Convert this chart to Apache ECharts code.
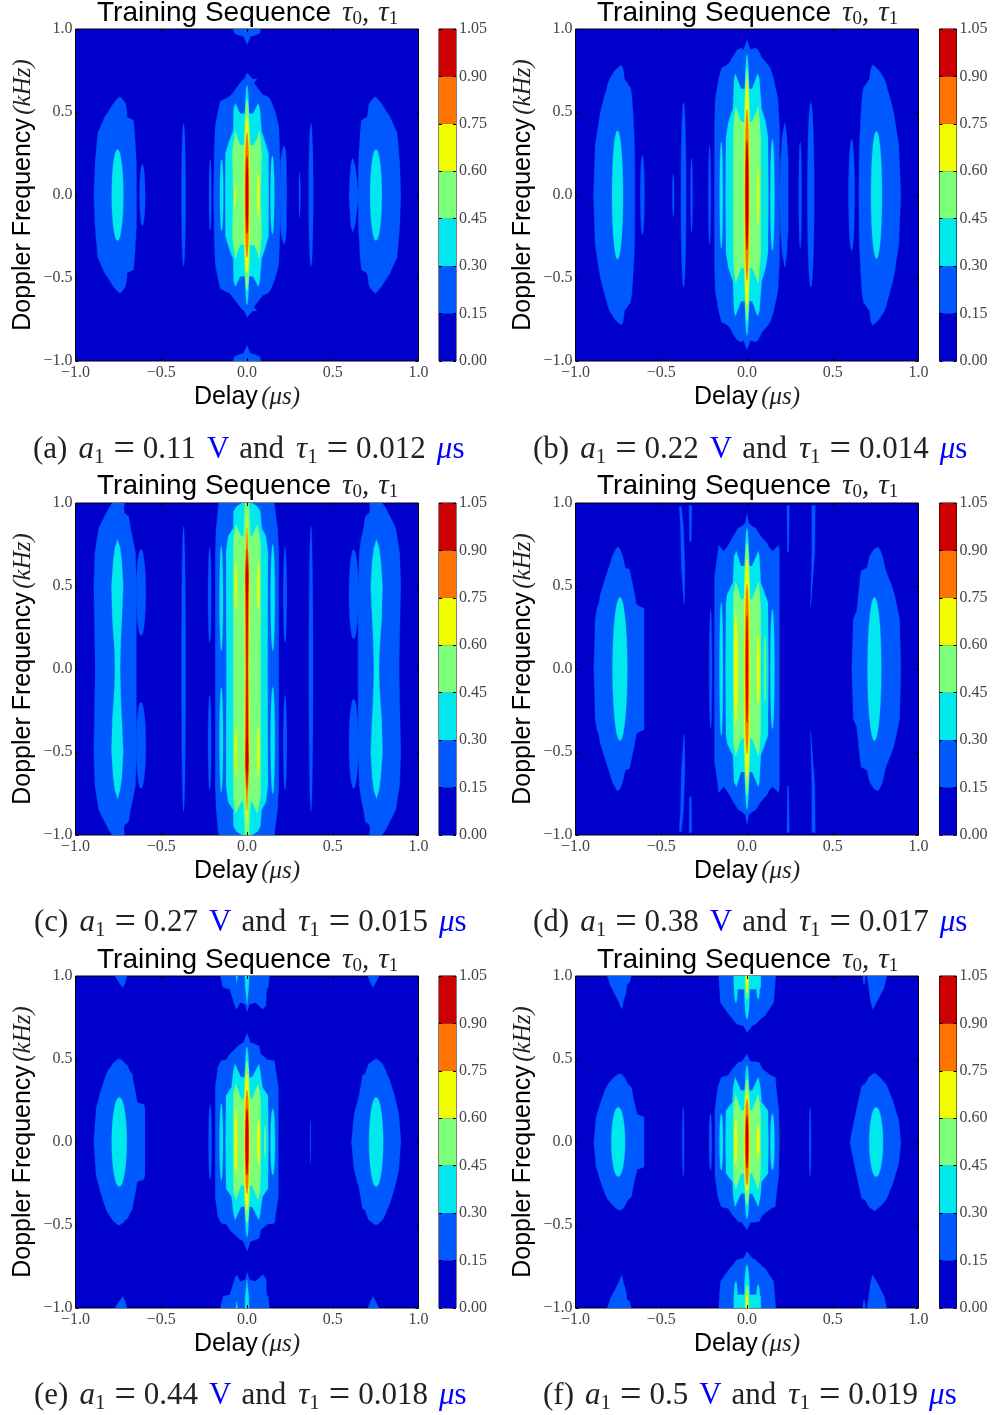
<!DOCTYPE html>
<html><head><meta charset="utf-8">
<script src="https://cdn.jsdelivr.net/npm/echarts@6/dist/echarts.min.js"></script>
<style>html,body{margin:0;padding:0;background:#fff}#c{width:993px;height:1415px}</style></head>
<body><div id="c"></div>
<script>
// Contour band colours (jet, 7 bands) and the colour-bar steps
const bandColors = ['#0000cc','#0058ff','#00e8ee','#7cff79','#f1fc00','#ff7300','#cc0000'];
const bandWidths = [0.15,0.15,0.15,0.15,0.15,0.15,0.15];
const captionParts = [['a','0.11','0.012'],['b','0.22','0.014'],['c','0.27','0.015'],['d','0.38','0.017'],['e','0.44','0.018'],['f','0.5','0.019']];

// Filled regions: [band, rows of [doppler, delayLeft, delayRight]]
// Rows starting at doppler 0 are mirrored into one shape; others are drawn at +/- doppler.
const lobesA = [
 [1,[[0,-.195,.195],[.3,-.19,.19],[.416,-.185,.185],[.5,-.17,.165],[.566,-.155,.14],[.59,-.105,.125],[.606,-.09,.09],[.675,-.04,.04],[.697,-.02,.058],[.70,-.015,.03],[.737,0,0]]],
 [1,[[0,-.893,-.644],[.2,-.885,-.645],[.375,-.87,-.655],[.45,-.838,-.662],[.47,-.83,-.70],[.5,-.81,-.70],[.55,-.78,-.708],[.576,-.76,-.725],[.59,-.745,-.74]]],
 [1,[[0,.648,.897],[.2,.65,.89],[.375,.66,.875],[.45,.667,.842],[.47,.70,.835],[.5,.705,.815],[.55,.712,.785],[.576,.73,.765],[.59,.745,.75]]],
 [1,[[0,.595,.65],[.1,.6,.64],[.18,.605,.63],[.22,.615,.618]]],
 [1,[[0,.19,.232],[.2,.195,.23],[.27,.205,.225],[.30,.215,.216]]],
 [1,[[1,-.08,.08],[.975,-.075,.075],[.96,-.04,.04],[.955,-.02,.02],[.905,0,0]]],
 [2,[[0,-.127,.127],[.25,-.125,.125],[.315,-.107,.107],[.385,-.08,.085],[.516,-.078,.075],[.552,-.068,.066],[.49,-.04,.035],[.49,-.012,.012]]],
 [3,[[0,-.08,.08],[.25,-.085,.085],[.30,-.08,.08],[.33,-.075,.08],[.385,-.068,.07],[.34,-.055,.06],[.30,-.04,.04]]]
];
const spindlesA = [ // [band, delay, half width, doppler from, doppler to]
 [1,-.61,.016,-.185,.185],[1,-.37,.012,-.43,.43],[1,.373,.013,-.43,.43],[1,-.215,.007,-.215,.215],[1,.307,.004,-.135,.135],
 [2,-.755,.034,-.275,.275],[2,.752,.034,-.275,.275],[2,-.148,.01,-.215,.215],[2,.148,.011,-.235,.235],[2,0,.018,-.662,.662],
 [3,0,.02,-.576,.576],[4,0,.017,-.476,.476],[4,-.068,.004,-.06,.06],[4,.065,.006,-.13,.13],[5,0,.012,-.375,.375],[6,0,.007,-.235,.235]
];
const lobesB = [
 [1,[[0,-.19,.19],[.4,-.19,.19],[.58,-.185,.18],[.70,-.165,.155],[.767,-.148,.135],[.78,-.12,.125],[.80,-.10,.11],[.83,-.085,.085],[.87,-.06,.066],[.885,-.035,.05],[.875,-.02,.02],[.932,0,0]]],
 [1,[[0,.19,.24],[.2,.195,.24],[.35,.205,.232],[.435,.22,.222]]],
 [1,[[0,-.895,-.654],[.3,-.885,-.655],[.5,-.855,-.665],[.6,-.83,-.672],[.65,-.815,-.68],[.66,-.815,-.69],[.7,-.80,-.715],[.75,-.77,-.72],[.77,-.75,-.725],[.783,-.735,-.735]]],
 [1,[[0,.652,.897],[.3,.655,.885],[.5,.665,.855],[.6,.672,.83],[.65,.68,.815],[.66,.69,.815],[.7,.715,.80],[.75,.72,.77],[.77,.725,.75],[.783,.733,.735]]],
 [2,[[0,-.125,.125],[.35,-.122,.122],[.44,-.108,.108],[.52,-.082,.085],[.70,-.075,.072],[.73,-.068,.062],[.64,-.035,.03]]],
 [3,[[0,-.08,.08],[.35,-.08,.08],[.46,-.075,.072],[.53,-.066,.066],[.44,-.035,.03]]]
];
const spindlesB = [
 [1,-.218,.007,-.30,.30],[1,-.37,.015,-.557,.557],[1,.372,.02,-.557,.557],[1,-.323,.006,-.224,.224],[1,-.43,.005,-.125,.125],[1,.31,.008,-.32,.32],[1,-.61,.012,-.238,.238],[1,.61,.018,-.335,.335],
 [2,-.755,.032,-.388,.388],[2,.755,.032,-.385,.385],[2,-.15,.009,-.32,.32],[2,.148,.012,-.335,.335],[2,0,.02,-.847,.847],
 [3,0,.02,-.76,.76],[4,0,.016,-.68,.68],[4,.065,.005,-.17,.17],[5,0,.012,-.515,.515],[6,0,.008,-.33,.33]
];
const lobesC = [
 [1,[[0,-.185,.185],[.7,-.185,.185],[.85,-.18,.178],[.95,-.17,.165],[1,-.165,.16]]],
 [1,[[0,-.885,-.645],[.3,-.89,-.645],[.5,-.893,-.645],[.7,-.887,-.65],[.78,-.875,-.665],[.85,-.864,-.68],[.92,-.83,-.69],[.94,-.82,-.715],[.97,-.805,-.718],[1,-.786,-.714]]],
 [1,[[0,.648,.887],[.3,.648,.892],[.5,.648,.897],[.7,.655,.89],[.78,.665,.878],[.85,.68,.867],[.92,.69,.833],[.94,.715,.823],[.97,.718,.808],[1,.714,.789]]],
 [2,[[0,-.12,.12],[.7,-.122,.122],[.8,-.11,.11],[.85,-.08,.085],[.95,-.078,.078],[.98,-.06,.06],[1,-.03,.03]]],
 [2,[[0,-.77,-.74],[.1,-.772,-.738],[.2,-.778,-.735],[.3,-.785,-.73],[.5,-.79,-.722],[.65,-.78,-.73],[.73,-.77,-.74],[.78,-.755,-.755]]],
 [2,[[0,.74,.77],[.1,.738,.772],[.2,.735,.778],[.3,.73,.785],[.5,.722,.79],[.65,.73,.78],[.73,.74,.77],[.78,.755,.755]]],
 [3,[[0,-.08,.08],[.75,-.08,.08],[.82,-.075,.07],[.87,-.065,.06],[.80,-.035,.03]]],
 [3,[[.8,-.02,.02],[1,-.012,.012]]],
 [4,[[0,-.012,.012],[.5,-.016,.016],[.93,0,0]]],
 [5,[[0,-.008,.008],[.6,-.012,.012],[.85,0,0]]],
 [6,[[0,-.003,.003],[.4,-.005,.005],[.55,-.008,.008],[.72,0,0]]]
];
const spindlesC = [
 [1,.222,.01,.16,.73],[1,-.218,.009,.16,.73],[1,-.37,.012,-.86,.86],[1,.373,.012,-.86,.86],[1,-.618,.028,.2,.72],[1,.622,.027,.18,.72],
 [2,-.15,.01,.11,.74],[2,.15,.012,.11,.75],
 [4,-.065,.006,.353,.645],[4,.065,.006,.353,.645]
];
const lobesD = [
 [1,[[0,-.19,.189],[.55,-.19,.189],[.70,-.17,.189],[.745,-.165,.185],[.71,-.135,.15],[.73,-.12,.13],[.76,-.10,.115],[.80,-.08,.08],[.85,-.05,.05],[.86,-.03,.03],[.88,-.01,.01],[.936,0,0]]],
 [1,[[0,-.893,-.60],[.3,-.885,-.60],[.365,-.875,-.60],[.38,-.87,-.63],[.39,-.865,-.645],[.45,-.855,-.655],[.5,-.84,-.665],[.55,-.825,-.675],[.6,-.81,-.685],[.61,-.805,-.71],[.68,-.785,-.725],[.72,-.765,-.74],[.735,-.755,-.752]]],
 [1,[[0,.611,.897],[.3,.62,.89],[.35,.64,.88],[.45,.65,.86],[.5,.655,.845],[.55,.66,.825],[.59,.665,.81],[.61,.70,.805],[.68,.715,.79],[.72,.74,.775],[.735,.76,.762]]],
 [1,[[.98,-.395,-.383],[.85,-.388,-.37],[.6,-.382,-.362],[.395,-.368,-.365]]],
 [1,[[.985,-.337,-.322],[.77,-.335,-.325]]],
 [1,[[.985,.233,.247],[.705,.236,.243]]],
 [1,[[.985,.378,.398],[.7,.378,.395],[.375,.37,.372]]],
 [2,[[0,-.125,.125],[.4,-.122,.122],[.45,-.115,.105],[.52,-.082,.08],[.68,-.075,.072],[.71,-.062,.066],[.62,-.035,.03]]],
 [3,[[0,-.08,.08],[.35,-.08,.08],[.45,-.078,.075],[.525,-.066,.068],[.42,-.035,.03]]]
];
const spindlesD = [
 [1,-.212,.008,-.36,.36],
 [2,-.741,.043,-.433,.433],[2,.743,.04,-.433,.433],[2,-.15,.01,-.40,.40],[2,.148,.012,-.36,.36],[2,0,.02,-.85,.85],
 [3,0,.022,-.76,.76],[3,.105,.005,-.2,.2],[4,0,.018,-.66,.66],[4,-.065,.01,-.33,.33],[4,.066,.008,-.21,.21],[5,0,.012,-.51,.51],[6,0,.005,-.325,.325]
];
const lobesE = [
 [1,[[0,-.185,.183],[.33,-.185,.183],[.45,-.17,.165],[.49,-.15,.16],[.495,-.12,.12],[.53,-.10,.08],[.58,-.05,.07],[.60,-.02,.02],[.655,0,0]]],
 [1,[[0,-.893,-.595],[.2,-.88,-.595],[.225,-.875,-.60],[.24,-.87,-.64],[.3,-.855,-.65],[.38,-.83,-.665],[.41,-.82,-.67],[.43,-.81,-.685],[.46,-.79,-.695],[.47,-.785,-.71],[.49,-.765,-.725],[.5,-.75,-.742]]],
 [1,[[0,.609,.897],[.17,.625,.885],[.28,.654,.86],[.38,.67,.83],[.40,.673,.82],[.41,.69,.815],[.43,.695,.81],[.47,.71,.79],[.49,.735,.77],[.5,.75,.755]]],
 [1,[[1,-.155,.13],[.93,-.14,.125],[.92,-.10,.115],[.82,-.07,.11],[.80,-.06,.09],[.84,-.04,.05],[.83,-.01,.015],[.785,0,0]]],
 [1,[[1,-.77,-.70],[.96,-.745,-.71],[.93,-.725,-.725]]],
 [1,[[1,.705,.77],[.96,.72,.75],[.93,.735,.735]]],
 [2,[[1,-.012,.012],[.93,-.01,.01],[.83,0,0]]],
 [2,[[1,-.065,-.055],[.96,-.06,-.06]]],
 [2,[[0,-.125,.125],[.28,-.122,.122],[.33,-.09,.09],[.42,-.08,.078],[.47,-.07,.07],[.39,-.035,.03]]],
 [3,[[0,-.08,.08],[.2,-.08,.08],[.3,-.078,.075],[.35,-.065,.065],[.26,-.035,.03]]]
];
const spindlesE = [
 [1,-.215,.009,-.225,.225],[1,.37,.002,-.13,.13],
 [2,-.745,.044,-.27,.27],[2,.753,.041,-.27,.27],[2,-.15,.01,-.23,.23],[2,.15,.013,-.2,.2],[2,0,.018,-.574,.574],
 [3,0,.02,-.49,.49],[3,.105,.004,-.1,.1],[4,0,.017,-.41,.41],[4,-.065,.008,-.2,.2],[4,.067,.008,-.13,.13],[5,0,.012,-.31,.31],[6,0,.008,-.2,.2]
];
const lobesF = [
 [1,[[0,-.187,.189],[.2,-.187,.185],[.33,-.17,.17],[.39,-.15,.165],[.40,-.11,.14],[.44,-.085,.09],[.48,-.05,.07],[.485,-.03,.02],[.528,0,0]]],
 [1,[[0,-.893,-.60],[.15,-.88,-.60],[.165,-.875,-.64],[.25,-.85,-.66],[.32,-.825,-.672],[.33,-.82,-.675],[.35,-.81,-.695],[.39,-.775,-.715],[.41,-.75,-.732]]],
 [1,[[0,.60,.897],[.13,.625,.885],[.25,.65,.85],[.34,.67,.815],[.35,.69,.81],[.39,.71,.775],[.414,.74,.745]]],
 [1,[[1,-.165,.168],[.84,-.155,.155],[.76,-.10,.105],[.75,-.09,.09],[.71,-.06,.05],[.70,-.02,.03],[.66,0,0]]],
 [1,[[1,-.815,-.675],[.96,-.80,-.685],[.95,-.80,-.70],[.9,-.775,-.705],[.85,-.75,-.72],[.80,-.73,-.73]]],
 [1,[[1,.70,.815],[.93,.71,.80],[.85,.72,.76],[.80,.733,.733]]],
 [1,[[1,.675,.69],[.95,.68,.685]]],
 [2,[[1,-.075,.08],[.93,-.075,.08],[.92,-.05,.05]]],
 [2,[[0,-.125,.125],[.19,-.122,.122],[.24,-.085,.085],[.33,-.08,.078],[.39,-.07,.066],[.31,-.035,.03]]],
 [3,[[0,-.08,.08],[.15,-.08,.08],[.23,-.078,.075],[.285,-.066,.064],[.19,-.035,.03]]]
];
const spindlesF = [
 [1,-.372,.005,-.21,.21],[1,.368,.005,-.21,.21],[1,-.213,.008,-.17,.17],
 [2,-.751,.04,-.21,.21],[2,.753,.04,-.21,.21],[2,-.15,.01,-.17,.17],[2,.148,.012,-.17,.17],[2,0,.018,-.464,.464],
 [2,-.065,.012,.84,1.16],[2,.065,.012,.86,1.14],[2,0,.017,.74,1.26],
 [3,0,.012,.86,1.14],[4,0,.006,.9,1.1],
 [3,0,.02,-.38,.38],[4,0,.017,-.30,.30],[4,-.065,.008,-.14,.14],[4,.065,.008,-.1,.1],[5,0,.012,-.26,.26],[6,0,.007,-.16,.16]
];
const panelLobes = [lobesA,lobesB,lobesC,lobesD,lobesE,lobesF];
const panelSpindles = [spindlesA,spindlesB,spindlesC,spindlesD,spindlesE,spindlesF];

// ---- build shapes (in data units) ----
function lobePolys(rows){
  const right = rows.map(r=>[r[2],r[0]]), left = rows.slice().reverse().map(r=>[r[1],r[0]]);
  const up = right.concat(left);
  if(rows[0][0]===0){
    const low = rows.map(r=>[r[1],-r[0]]).concat(rows.slice().reverse().map(r=>[r[2],-r[0]]));
    return [up.concat(low)];
  }
  return [up, up.map(p=>[p[0],-p[1]])];
}
function spindlePolys(s){
  const pts=[], mid=(s[3]+s[4])/2, h=(s[4]-s[3])/2;
  for(let k=0;k<28;k++){const a=k/28*2*Math.PI; pts.push([s[1]+s[2]*Math.cos(a), Math.max(-1,Math.min(1,mid+h*Math.sin(a)))]);}
  return s[3]>0 ? [pts, pts.map(p=>[p[0],-p[1]])] : [pts];
}
function panelShapes(i){
  const all = panelLobes[i].map(l=>({band:l[0],polys:lobePolys(l[1])}))
    .concat(panelSpindles[i].map(s=>({band:s[0],polys:spindlePolys(s)})));
  return all.map((o,k)=>[o,k]).sort((a,b)=>a[0].band-b[0].band||a[1]-b[1]).map(a=>a[0]);
}

// ---- layout ----
const colLeft=[75.5,575.5], rowTop=[29,503,976], plotW=343, plotH=332;
const barLeft=[439,939.5], barW=17;
const titleLeft=[97,597], titleTop=[-3,470,944];
const capLeft=[33,533,34,533,34,543], capTop=[432,432,905,905,1378,1378];
const serif='"Liberation Serif","DejaVu Serif",serif', sans='"Liberation Sans",Arial,sans-serif';
const tick={show:true,inside:true,length:3,lineStyle:{color:'#000',width:1}};
const line={show:false,onZero:false};
const fmt1=v=>(v<0?'\u2212':'')+Math.abs(v).toFixed(1);
const norm={fontWeight:'normal'};
const capBase={...norm,fontFamily:serif,fontSize:31,color:'#222',lineHeight:36};
const capRich={
  par:{...capBase,padding:[0,11,0,0]},
  it:{...capBase,fontStyle:'italic'},
  sub:{...norm,fontFamily:serif,fontSize:21,color:'#222',lineHeight:30,verticalAlign:'bottom',padding:[0,9,0,0]},
  eq:{...capBase,fontSize:38,padding:[0,8,0,0]},
  num:{...capBase,padding:[0,11,0,0]},
  unit:{...capBase,color:'#0000ff',padding:[0,10,0,0]},
  and:{...capBase,padding:[0,12,0,0]},
  mu:{...capBase,color:'#0000ff',fontStyle:'italic'},
  s:{...capBase,color:'#0000ff'}
};

const grid=[],xAxis=[],yAxis=[],series=[],title=[];
for(let i=0;i<6;i++){
  const c=i%2,r=Math.floor(i/2),L=colLeft[c],T=rowTop[r];
  const g=grid.length;
  grid.push({left:L,top:T,width:plotW,height:plotH,show:true,backgroundColor:bandColors[0],borderColor:'#000',borderWidth:1,containLabel:false,outerBoundsMode:'none'});
  grid.push({left:barLeft[c],top:T,width:barW,height:plotH,show:true,backgroundColor:bandColors[0],borderColor:'#000',borderWidth:1,outerBoundsMode:'none'});
  const xi=xAxis.length,yi=yAxis.length;
  xAxis.push({gridIndex:g,type:'value',min:-1,max:1,interval:.5,position:'bottom',z:10,
    axisLine:line,splitLine:{show:false},axisTick:tick,
    axisLabel:{show:true,margin:4,color:'#444',fontFamily:serif,fontSize:16,formatter:fmt1,showMinLabel:true,showMaxLabel:true},
    name:'{a|Delay} {b|(\u03bcs)}',nameLocation:'middle',nameGap:24,
    nameTextStyle:{rich:{a:{fontFamily:sans,fontSize:25,color:'#000'},b:{fontFamily:serif,fontStyle:'italic',fontSize:25,color:'#222'}}}});
  xAxis.push({gridIndex:g,type:'value',min:-1,max:1,interval:.5,position:'top',z:10,axisLine:line,splitLine:{show:false},axisTick:tick,axisLabel:{show:false}});
  yAxis.push({gridIndex:g,type:'value',min:-1,max:1,interval:.5,position:'left',z:10,
    axisLine:line,splitLine:{show:false},axisTick:tick,
    axisLabel:{show:true,margin:3,color:'#444',fontFamily:serif,fontSize:16,formatter:fmt1,showMinLabel:true,showMaxLabel:true},
    name:'{a|Doppler Frequency} {b|(kHz)}',nameLocation:'middle',nameRotate:90,nameGap:40,
    nameTextStyle:{rich:{a:{fontFamily:sans,fontSize:25,color:'#000'},b:{fontFamily:serif,fontStyle:'italic',fontSize:25,color:'#222'}}}});
  yAxis.push({gridIndex:g,type:'value',min:-1,max:1,interval:.5,position:'right',z:10,axisLine:line,splitLine:{show:false},axisTick:tick,axisLabel:{show:false}});
  const shapes=panelShapes(i);
  series.push({type:'custom',coordinateSystem:'cartesian2d',xAxisIndex:xi,yAxisIndex:yi,silent:true,animation:false,clip:true,
    data:shapes.map((s,k)=>[k]),encode:{x:-1,y:-1},
    renderItem:(p,api)=>{
      const s=shapes[api.value(0)];
      return {type:'group',children:s.polys.map(poly=>({type:'polygon',shape:{points:poly.map(q=>api.coord(q))},style:{fill:bandColors[s.band],stroke:bandColors[s.band],lineWidth:.3}}))};
    }});
  // colour bar
  const cx=xAxis.length,cy=yAxis.length;
  xAxis.push({gridIndex:g+1,type:'category',data:[''],show:false});
  yAxis.push({gridIndex:g+1,type:'value',min:0,max:1.05,interval:.15,position:'right',z:10,
    axisLine:line,splitLine:{show:false},axisTick:tick,
    axisLabel:{show:true,inside:false,margin:3,color:'#444',fontFamily:serif,fontSize:16,formatter:v=>v.toFixed(2),showMinLabel:true,showMaxLabel:true}});
  yAxis.push({gridIndex:g+1,type:'value',min:0,max:1.05,interval:.15,position:'left',z:10,axisLine:line,splitLine:{show:false},axisTick:tick,axisLabel:{show:false}});
  bandColors.forEach((col,k)=>series.push({type:'bar',xAxisIndex:cx,yAxisIndex:cy,stack:'cb'+i,barWidth:'100%',silent:true,animation:false,itemStyle:{color:col},data:[bandWidths[k]]}));
  // titles
  const mathT={...norm,fontFamily:serif,fontStyle:'italic',fontSize:29,color:'#222',lineHeight:32};
  title.push({left:titleLeft[c],top:titleTop[r],padding:0,
    text:'{s|Training Sequence}{g| }{m|\u03c4}{b|0}{m|,}{n|\u03c4}{b|1}',
    textStyle:{fontWeight:'normal',rich:{s:{...norm,fontFamily:sans,fontSize:28,color:'#000',lineHeight:32},g:{...norm,fontFamily:sans,fontSize:40,lineHeight:32},m:mathT,n:{...mathT,padding:[0,0,0,9]},b:{...norm,fontFamily:serif,fontSize:19,color:'#222',lineHeight:26,verticalAlign:'bottom'}}}});
  const cp=captionParts[i];
  title.push({left:capLeft[i],top:capTop[i],padding:0,
    text:`{par|(${cp[0]})}{it|a}{sub|1}{eq|=}{num|${cp[1]}}{unit|V}{and|and}{it|\u03c4}{sub|1}{eq|=}{num|${cp[2]}}{mu|\u03bc}{s|s}`,
    textStyle:{fontWeight:'normal',rich:capRich}});
}
const chart=echarts.init(document.getElementById('c'),null,{renderer:'canvas'});
chart.setOption({animation:false,backgroundColor:'#fff',title,grid,xAxis,yAxis,series,tooltip:{show:false},legend:{show:false}});
</script></body></html>
